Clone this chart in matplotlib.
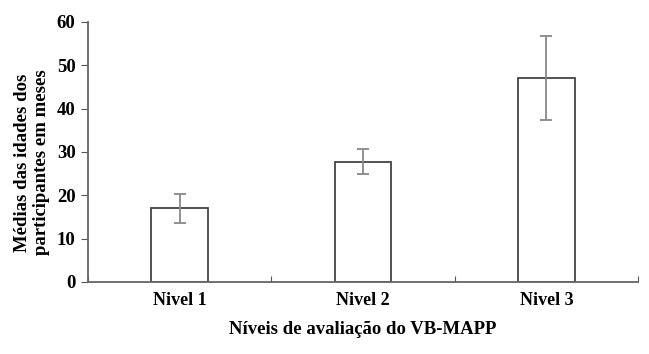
import matplotlib.pyplot as plt
import numpy as np

niveis = ['Nivel 1', 'Nivel 2', 'Nivel 3']
medias = [17.0, 27.8, 47.0]
erros = [3.3, 2.8, 9.7]

plt.rcParams['font.family'] = 'Liberation Serif'
plt.rcParams['font.weight'] = 'bold'

fig = plt.figure(figsize=(6.49, 3.54), dpi=100)
ax = fig.add_axes([0.1356, 0.2034, 0.8475, 0.7345])

x = np.arange(len(niveis))
ax.bar(x, medias, width=0.31, color='white', edgecolor='#444444', linewidth=1.3, zorder=2)
ax.errorbar(x, medias, yerr=erros, fmt='none', ecolor='#888888', elinewidth=1.3,
            capsize=4, capthick=1.3, zorder=3)

ax.set_xlim(-0.5, 2.5)
ax.set_ylim(0, 60)
ax.set_yticks(range(0, 61, 10))
ax.set_xticks([-0.5, 0.5, 1.5, 2.5])
ax.set_xticklabels([])
ax.set_xticks(x, minor=True)
ax.set_xticklabels(niveis, minor=True, fontsize=13, fontweight='bold')
ax.tick_params(axis='x', which='major', direction='in', length=4, color='#555555')
ax.tick_params(axis='x', which='minor', length=0, pad=7)
ax.tick_params(axis='y', direction='out', length=5, color='#555555', labelsize=13.5, pad=4)

for s in ['top', 'right']:
    ax.spines[s].set_visible(False)
for s in ['left', 'bottom']:
    ax.spines[s].set_color('#666666')
    ax.spines[s].set_linewidth(1.3)

ax.set_xlabel('Níveis de avaliação do VB-MAPP', fontsize=13.5, fontweight='bold', labelpad=9)
ax.set_ylabel('Médias das idades dos\nparticipantes em meses', fontsize=13.5,
              fontweight='bold', linespacing=1.15)
ax.yaxis.set_label_coords(-0.07, 0.46)

plt.savefig('out.png', dpi=100)
